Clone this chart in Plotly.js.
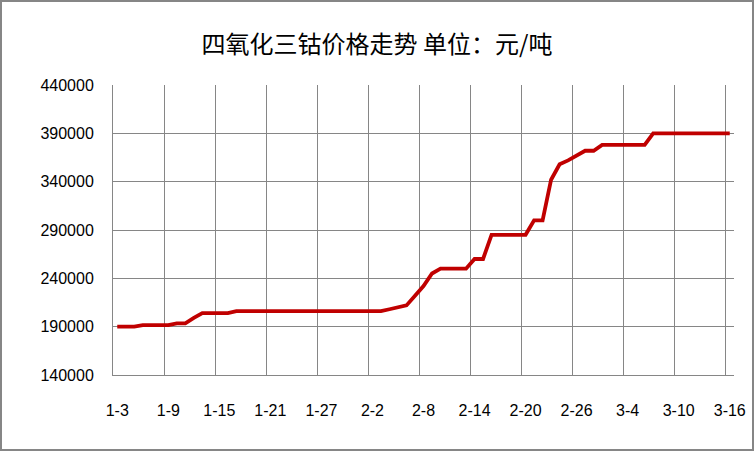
<!DOCTYPE html>
<html>
<head>
<meta charset="utf-8">
<script src="https://cdn.plot.ly/plotly-3.0.1.min.js"></script>
<style>
  html, body { margin: 0; padding: 0; background: #fff; }
  #wrap { position: relative; width: 754px; height: 451px; }
  #chart { width: 754px; height: 451px; }
  #frame { position: absolute; left: 0; top: 0; width: 754px; height: 451px; box-sizing: border-box; border: 2px solid #868686; pointer-events: none; }
</style>
</head>
<body>
<div id="wrap"><div id="chart"></div><div id="frame"></div></div>
<script>
// Daily dates from 1-3 to 3-16
const dates = [
  "1-3","1-4","1-5","1-6","1-7","1-8","1-9","1-10","1-11","1-12","1-13","1-14","1-15","1-16","1-17","1-18","1-19","1-20","1-21","1-22","1-23","1-24","1-25","1-26","1-27","1-28","1-29","1-30","1-31",
  "2-1","2-2","2-3","2-4","2-5","2-6","2-7","2-8","2-9","2-10","2-11","2-12","2-13","2-14","2-15","2-16","2-17","2-18","2-19","2-20","2-21","2-22","2-23","2-24","2-25","2-26","2-27","2-28",
  "3-1","3-2","3-3","3-4","3-5","3-6","3-7","3-8","3-9","3-10","3-11","3-12","3-13","3-14","3-15","3-16"
];
// Price of Co3O4 (yuan / ton)
const prices = [
  190000,190000,190000,191500,191500,191500,191500,193500,193500,199000,204000,204000,204000,204000,206000,206000,206000,206000,206000,206000,206000,206000,206000,206000,206000,206000,206000,206000,206000,
  206000,206000,206000,208000,210000,212000,222000,232000,245000,250000,250000,250000,250000,260000,260000,285000,285000,285000,285000,285000,300000,300000,342000,358000,362000,367000,372000,372000,
  378000,378000,378000,378000,378000,378000,390000,390000,390000,390000,390000,390000,390000,390000,390000,390000
];
const tickLabels = ["1-3","1-9","1-15","1-21","1-27","2-2","2-8","2-14","2-20","2-26","3-4","3-10","3-16"];
const yTicks = [140000,190000,240000,290000,340000,390000,440000];

const n = dates.length;
const boundaryVals = tickLabels.map(l => dates.indexOf(l) - 0.5);

const grid = '#868686';
const tickFont = { family: 'Liberation Sans, Arial, sans-serif', size: 16, color: '#000' };

const data = [
  {
    x: [], y: [],
    xaxis: 'x2', yaxis: 'y',
    type: 'scatter', mode: 'lines',
    hoverinfo: 'skip', showlegend: false
  },
  {
    x: dates,
    y: prices,
    type: 'scatter',
    mode: 'lines',
    line: { color: '#C00000', width: 3.8 },
    hoverinfo: 'skip',
    showlegend: false
  }
];

const layout = {
  width: 754,
  height: 451,
  margin: { l: 113, r: 20, t: 85, b: 76, pad: 0 },
  paper_bgcolor: '#fff',
  plot_bgcolor: '#fff',
  title: {
    text: '四氧化三钴价格走势 单位：元/吨',
    font: { family: 'Noto Sans CJK SC, sans-serif', size: 24, color: '#000' },
    x: 0.5, xanchor: 'center', xref: 'container',
    y: 1 - 45 / 451, yanchor: 'middle', yref: 'container'
  },
  xaxis: {
    type: 'category',
    categoryorder: 'array',
    categoryarray: dates,
    range: [-0.5, n - 0.5],
    tickmode: 'array',
    tickvals: tickLabels,
    ticktext: tickLabels,
    showgrid: false,
    zeroline: false,
    showline: true,
    linecolor: grid,
    linewidth: 1,
    ticks: 'outside',
    ticklen: 21,
    tickcolor: 'rgba(0,0,0,0)',
    tickfont: tickFont,
    fixedrange: true
  },
  xaxis2: {
    type: 'linear',
    overlaying: 'x',
    anchor: 'y',
    side: 'bottom',
    range: [-0.5, n - 0.5],
    tickmode: 'array',
    tickvals: boundaryVals,
    showticklabels: false,
    ticks: '',
    showgrid: true,
    gridcolor: grid,
    gridwidth: 1,
    zeroline: false,
    showline: false,
    fixedrange: true
  },
  yaxis: {
    range: [140000, 440000],
    tickmode: 'array',
    tickvals: yTicks,
    ticktext: yTicks.map(String),
    showgrid: true,
    gridcolor: grid,
    gridwidth: 1,
    zeroline: false,
    showline: true,
    linecolor: grid,
    linewidth: 1,
    ticks: 'outside',
    ticklen: 15,
    tickcolor: 'rgba(0,0,0,0)',
    tickfont: tickFont,
    fixedrange: true
  }
};

Plotly.newPlot('chart', data, layout, { staticPlot: true, displayModeBar: false });
</script>
</body>
</html>
